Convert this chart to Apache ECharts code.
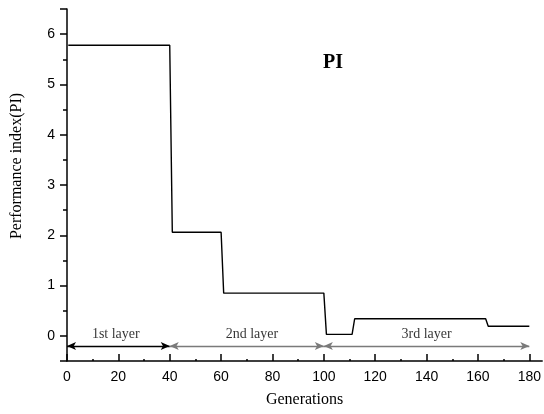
<!DOCTYPE html>
<html>
<head>
<meta charset="utf-8">
<script src="https://cdn.jsdelivr.net/npm/echarts@6/dist/echarts.min.js"></script>
<style>html,body{margin:0;padding:0;background:#fff;}#c{width:544px;height:414px;}</style>
</head>
<body>
<div id="c"></div>
<script>
// Step data: generation vs performance index
const generations = [0.5, 40, 41, 60, 61, 100, 101, 111, 112, 163, 164, 180];
const piValues = [5.78, 5.78, 2.06, 2.06, 0.85, 0.85, 0.03, 0.03, 0.34, 0.34, 0.19, 0.19];

// Tick labels
const xTicks = [0, 20, 40, 60, 80, 100, 120, 140, 160, 180];
const yTicks = [0, 1, 2, 3, 4, 5, 6];

// Layer annotations
const layerNames = ['1st layer', '2nd layer', '3rd layer'];
const layerStart = [0, 40, 100];
const layerEnd = [40, 100, 180];
const layerLabelX = [19, 72, 140];
const layerLabelY = 0.03;
const arrowY = -0.2;
const arrowColors = ['#000000', '#7a7a7a', '#7a7a7a'];

const serif = '"Liberation Serif", "DejaVu Serif", serif';
const sans = '"Liberation Sans", Arial, sans-serif';

const chart = echarts.init(document.getElementById('c'), null, {renderer: 'canvas'});

const lineData = generations.map((g, i) => [g, piValues[i]]);
const arrowData = layerNames.map((n, i) => [
  {coord: [layerStart[i], arrowY], lineStyle: {color: arrowColors[i]}},
  {coord: [layerEnd[i], arrowY]}
]);
const labelData = layerNames.map((n, i) => [layerLabelX[i], layerLabelY, n]);

chart.setOption({
  animation: false,
  backgroundColor: '#fff',
  title: {
    text: 'PI',
    left: 323,
    top: 53,
    padding: 0,
    textStyle: {fontFamily: serif, fontWeight: 'bold', fontSize: 20, color: '#000'}
  },
  grid: {left: 67, top: 9, right: 1, bottom: 53, containLabel: false},
  xAxis: {
    type: 'value',
    min: 0,
    max: 185,
    interval: 20,
    name: 'Generations',
    nameLocation: 'middle',
    nameGap: 31,
    nameTextStyle: {fontFamily: serif, fontSize: 16, color: '#000'},
    axisLine: {show: true, onZero: false, lineStyle: {color: '#000', width: 1.5}},
    axisTick: {show: true, inside: true, length: 7, customValues: xTicks, lineStyle: {color: '#000', width: 1.5}},
    minorTick: {show: true, splitNumber: 2, length: 2, lineStyle: {color: '#000', width: 1.5}},
    axisLabel: {
      fontFamily: sans, fontSize: 14, color: '#000', margin: 9,
      customValues: xTicks,
      formatter: v => String(v)
    },
    splitLine: {show: false}
  },
  yAxis: {
    type: 'value',
    min: -0.5,
    max: 6.5,
    name: 'Performance index(PI)',
    nameLocation: 'middle',
    nameGap: 42,
    nameTextStyle: {fontFamily: serif, fontSize: 16, color: '#000', padding: [0, 0, 0, 38]},
    axisLine: {show: true, onZero: false, lineStyle: {color: '#000', width: 1.5}},
    axisTick: {show: true, inside: false, length: 7, lineStyle: {color: '#000', width: 1.5}},
    minorTick: {show: true, splitNumber: 2, length: 4, lineStyle: {color: '#000', width: 1.5}},
    axisLabel: {
      fontFamily: sans, fontSize: 14, color: '#000', margin: 12,
      formatter: v => (yTicks.indexOf(v) >= 0 ? String(v) : '')
    },
    splitLine: {show: false}
  },
  series: [
    {
      type: 'line',
      data: lineData,
      showSymbol: false,
      symbol: 'none',
      lineStyle: {color: '#000', width: 1.4},
      silent: true,
      markLine: {
        silent: true,
        symbol: ['arrow', 'arrow'],
        symbolSize: [6, 9],
        label: {show: false},
        lineStyle: {type: 'solid', width: 1.3, color: '#000'},
        emphasis: {disabled: true},
        data: arrowData
      }
    },
    {
      type: 'scatter',
      data: labelData,
      symbolSize: 0,
      silent: true,
      label: {
        show: true,
        position: 'inside',
        formatter: p => p.data[2],
        fontFamily: serif,
        fontSize: 14,
        color: '#000'
      }
    }
  ]
});
</script>
</body>
</html>
